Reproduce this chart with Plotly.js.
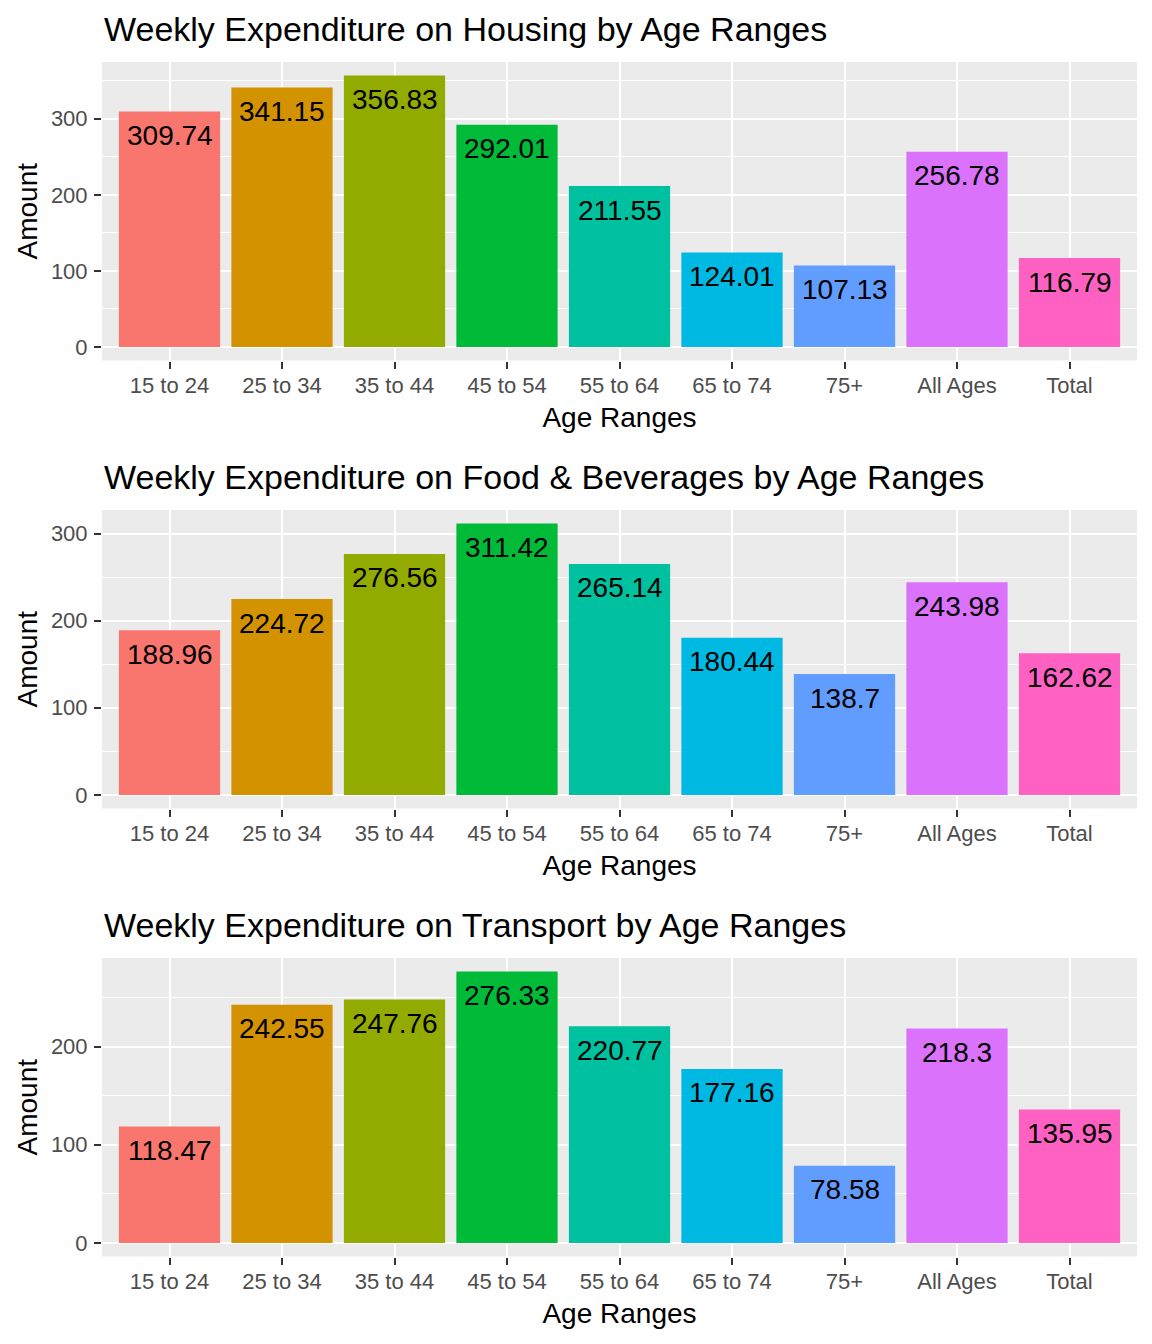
<!DOCTYPE html>
<html>
<head>
<meta charset="utf-8">
<script src="https://cdn.plot.ly/plotly-3.0.1.min.js"></script>
<style>html,body{margin:0;padding:0;background:#fff;}#chart{width:1152px;height:1344px;}</style>
</head>
<body>
<div id="chart"></div>
<script>
const categories = ['15 to 24','25 to 34','35 to 44','45 to 54','55 to 64','65 to 74','75+','All Ages','Total'];
const housing = [309.74,341.15,356.83,292.01,211.55,124.01,107.13,256.78,116.79];
const food = [188.96,224.72,276.56,311.42,265.14,180.44,138.7,243.98,162.62];
const transport = [118.47,242.55,247.76,276.33,220.77,177.16,78.58,218.3,135.95];
const barColors = ['#F8766D','#D39200','#93AA00','#00BA38','#00C19F','#00B9E3','#619CFF','#DB72FB','#FF61C3'];
const panelTitles = ['Weekly Expenditure on Housing by Age Ranges','Weekly Expenditure on Food & Beverages by Age Ranges','Weekly Expenditure on Transport by Age Ranges'];
const series = [housing, food, transport];

const W = 1152, H = 1344;
const FONT = 'Liberation Sans, Arial, sans-serif';
const traces = [];
const annotations = [];
const layout = {
  width: W, height: H,
  margin: {l: 102, r: 15, t: 0, b: 0},
  paper_bgcolor: '#ffffff',
  plot_bgcolor: '#EBEBEB',
  showlegend: false,
  bargap: 0.1,
  font: {family: FONT, color: '#000'},
  annotations: annotations
};

series.forEach((vals, i) => {
  const sfx = i === 0 ? '' : String(i + 1);
  const xa = 'x' + sfx, ya = 'y' + sfx;
  traces.push({
    type: 'bar', x: categories, y: vals, xaxis: xa, yaxis: ya,
    marker: {color: barColors, line: {width: 0}},
    hoverinfo: 'x+y'
  });
  const top = 62 + 448 * i, bottom = 360.5 + 448 * i;
  const maxV = Math.max(...vals);
  layout['xaxis' + sfx] = {
    domain: [0, 1], anchor: ya,
    type: 'category',
    range: [-0.6, categories.length - 0.4],
    showgrid: true, gridcolor: '#ffffff', gridwidth: 2,
    ticks: 'outside', ticklen: 7, tickwidth: 2, tickcolor: '#333333',
    ticklabelstandoff: -2,
    tickfont: {size: 22, color: '#4D4D4D', family: FONT},
    showline: false, zeroline: false,
    title: {text: 'Age Ranges', font: {size: 28, color: '#000', family: FONT}, standoff: 10},
    fixedrange: true
  };
  layout['yaxis' + sfx] = {
    domain: [1 - bottom / H, 1 - top / H], anchor: xa,
    range: [-0.05 * maxV, 1.05 * maxV],
    dtick: 100, tick0: 0,
    showgrid: true, gridcolor: '#ffffff', gridwidth: 2,
    minor: {dtick: 50, tick0: 0, showgrid: true, gridcolor: '#ffffff', gridwidth: 1, ticks: ''},
    ticks: 'outside', ticklen: 7, tickwidth: 2, tickcolor: '#333333',
    ticklabelstandoff: 2,
    tickfont: {size: 22, color: '#4D4D4D', family: FONT},
    showline: false, zeroline: false,
    title: {text: 'Amount', font: {size: 28, color: '#000', family: FONT}, standoff: 5},
    fixedrange: true
  };
  annotations.push({
    xref: 'paper', yref: 'paper', x: 0, y: 1 - (29 + 448 * i) / H,
    xanchor: 'left', yanchor: 'middle', showarrow: false,
    text: panelTitles[i], font: {size: 34, color: '#000', family: FONT}
  });
  vals.forEach((v, j) => {
    annotations.push({
      xref: xa, yref: ya, x: categories[j], y: v,
      xanchor: 'center', yanchor: 'middle', yshift: -24, showarrow: false,
      text: String(v), font: {size: 28, color: '#000', family: FONT}
    });
  });
});

Plotly.newPlot('chart', traces, layout, {displayModeBar: false, staticPlot: true});
</script>
</body>
</html>
